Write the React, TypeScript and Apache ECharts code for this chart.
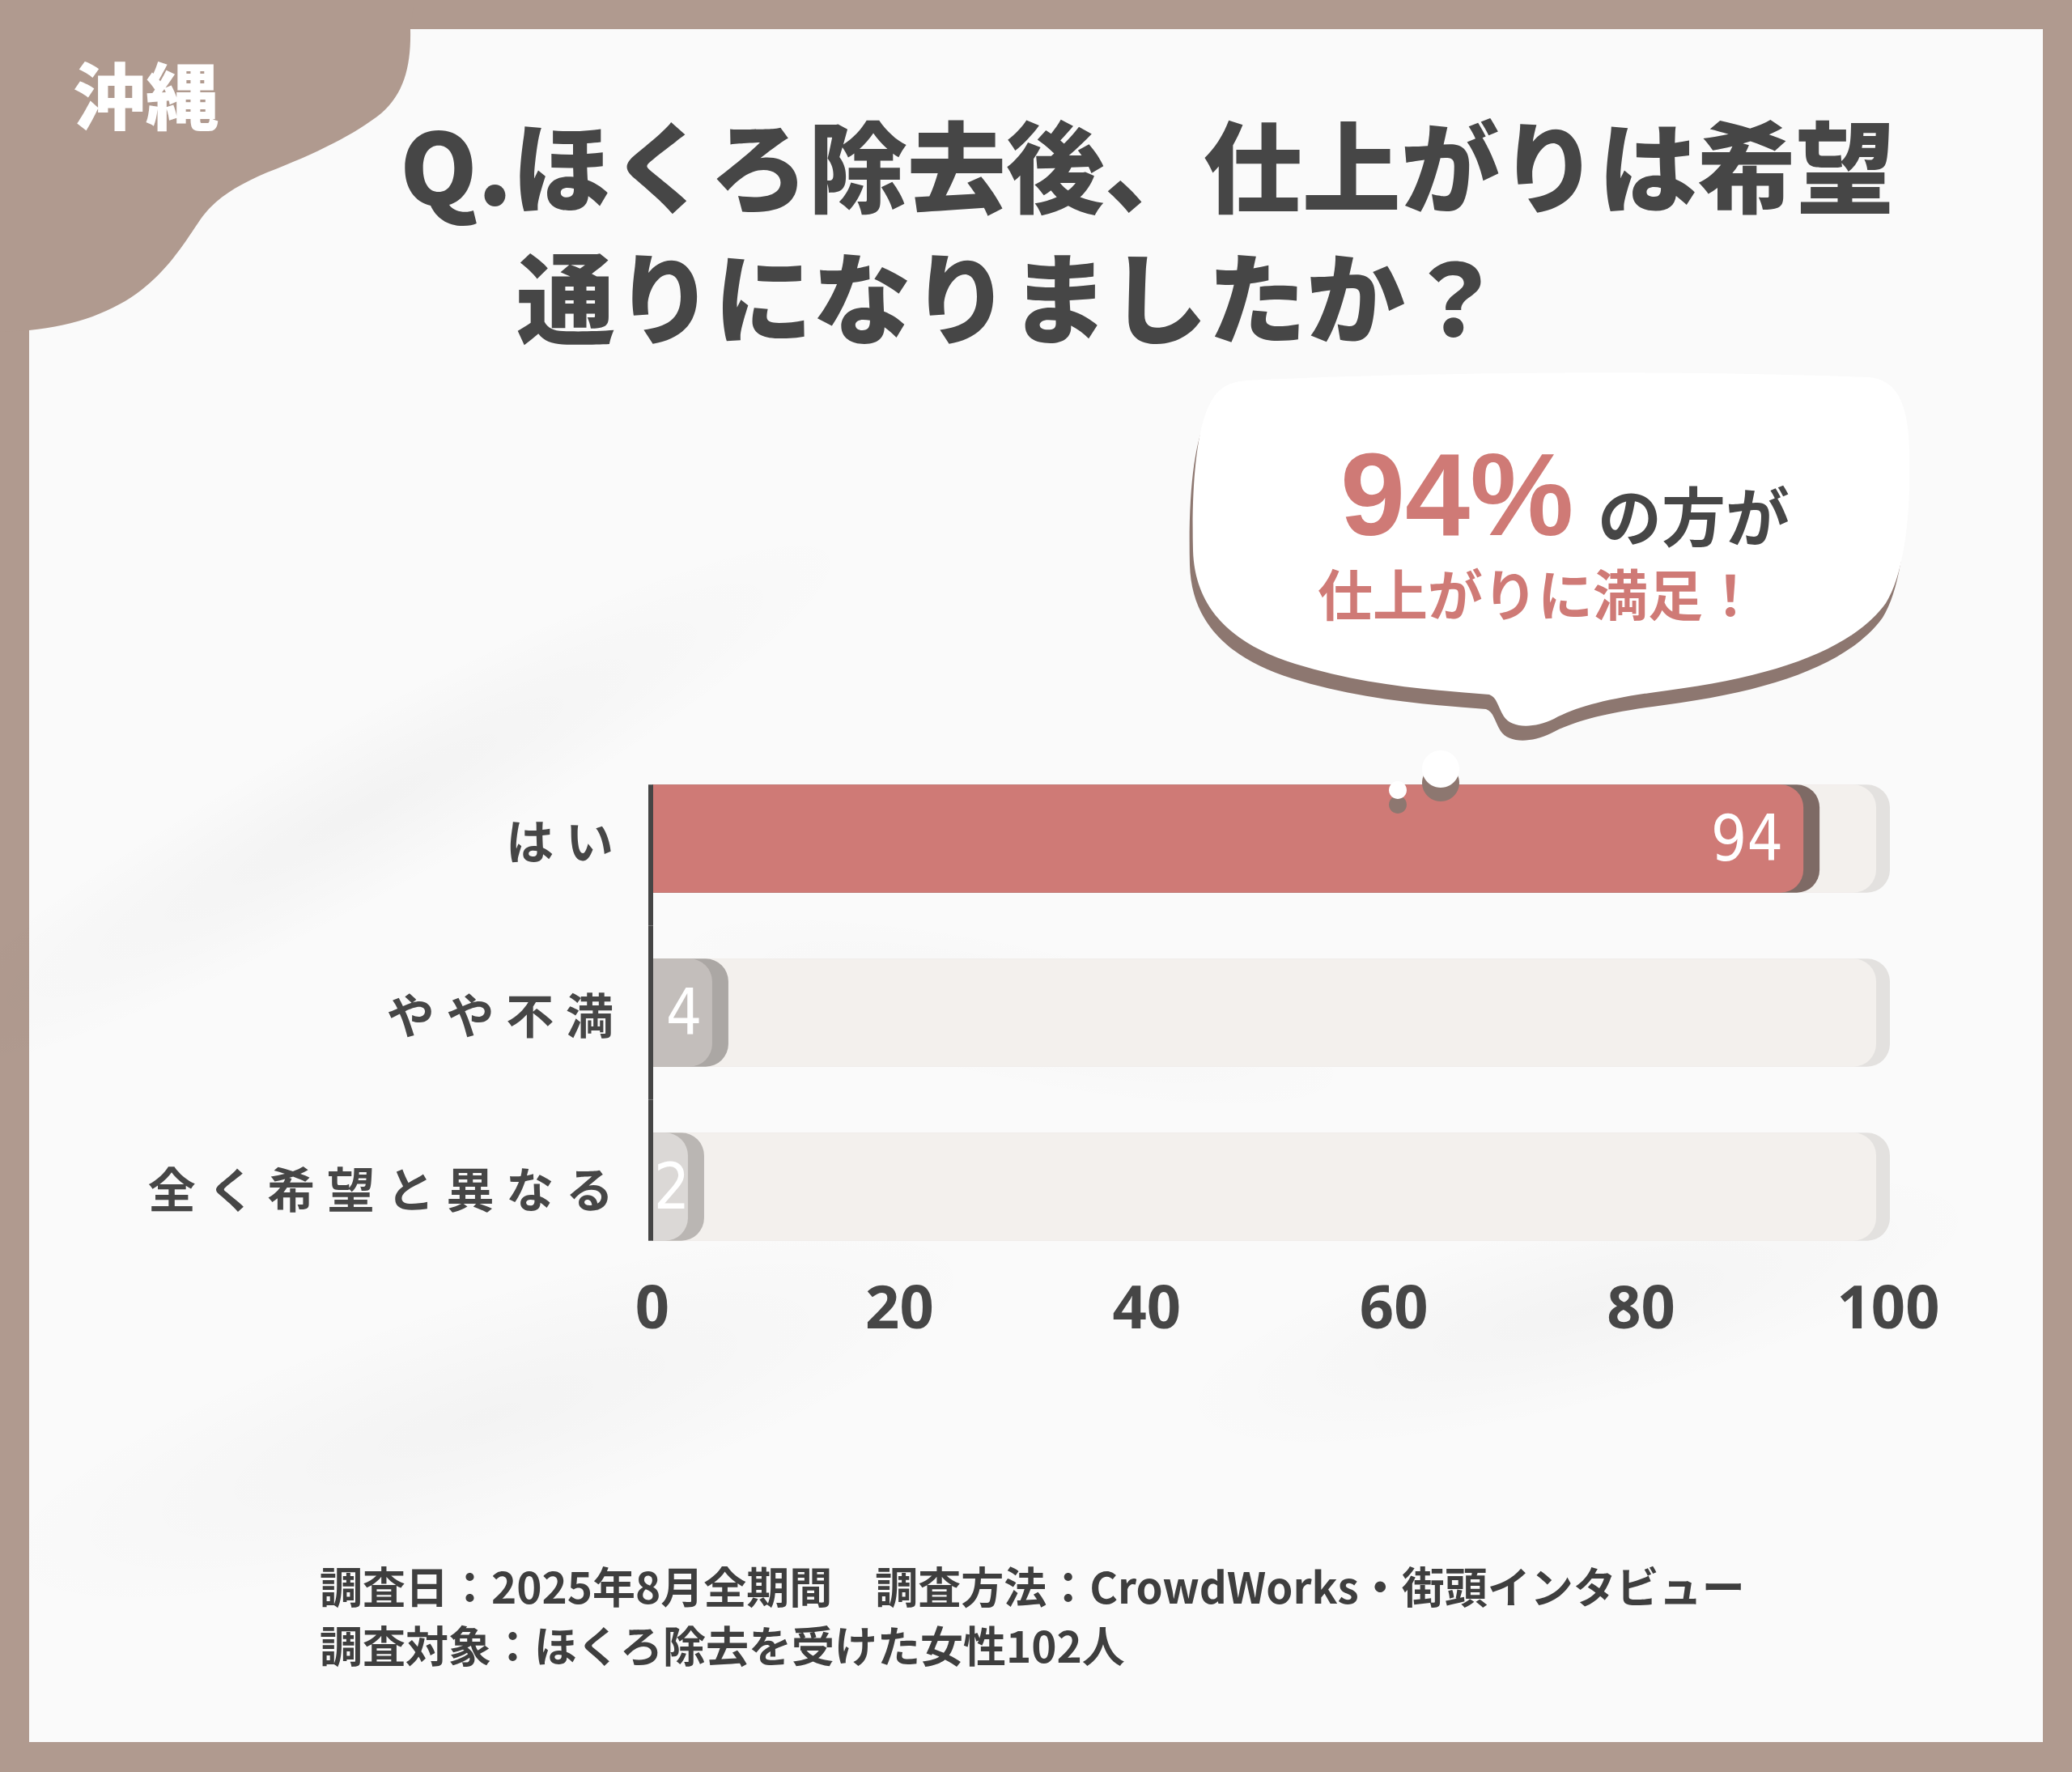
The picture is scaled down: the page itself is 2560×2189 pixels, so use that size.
import React, { useEffect, useRef } from 'react';
import * as echarts from 'echarts';

const W = 2560;
const H = 2189;

// ---- data ----
const categories = ['はい', 'やや不満', '全く希望と異なる'];
const values = [94, 4, 2];
const trackValue = 100;
const xMin = 0;
const xMax = 100;
const xStep = 20;
const barColors = ['#cf7a76', '#c3bebb', '#dbd8d6'];
const barShadowColors = ['#7e6a65', '#aba7a4', '#bab6b3'];
const regionLabel = '沖縄';
const titleLines = ['Q.ほくろ除去後、仕上がりは希望', '通りになりましたか？'];
const calloutSuffix = 'の方が';
const calloutLine2 = '仕上がりに満足！';
const footerLines = [
  '調査日：2025年8月全期間　調査方法：CrowdWorks・街頭インタビュー',
  '調査対象：ほくろ除去を受けた女性102人',
];

// ---- decorative shapes ----
const BLOB_D =
  'M 0 0 L 512 0 L 507 36 C 508 80 500 115 471 140 C 440 165 390 190 330 213 C 290 230 262 248 245 275 C 225 305 205 335 175 358 C 140 385 95 402 36 408 L 0 410 Z';
const BUBBLE_D =
  'M 1541 470 C 1800 458 2100 458 2310 466 C 2345 470 2358 500 2359 560 C 2361 640 2352 710 2330 745 C 2290 800 2200 835 2060 853 C 1990 862 1950 872 1920 888 C 1895 900 1868 900 1858 885 C 1850 872 1850 862 1840 858 C 1760 852 1680 845 1600 820 C 1520 795 1476 750 1474 680 C 1472 600 1478 520 1500 490 C 1510 476 1525 471 1541 470 Z';

echarts.graphic.registerShape('cornerBlob', echarts.graphic.extendPath(BLOB_D, {}));
echarts.graphic.registerShape('speechBubble', echarts.graphic.extendPath(BUBBLE_D, {}));

const CJK = '"Noto Sans CJK JP", "Noto Sans", sans-serif';
const BROWN = '#b09a8f';
const DARK = '#464646';
const RED = '#cf7a76';

function smudge(cx: number, cy: number, rx: number, ry: number, rot: number, a: number) {
  return {
    type: 'ellipse',
    z: -18,
    x: cx,
    y: cy,
    rotation: rot,
    shape: { cx: 0, cy: 0, rx, ry },
    style: {
      fill: {
        type: 'radial',
        x: 0.5,
        y: 0.5,
        r: 0.5,
        colorStops: [
          { offset: 0, color: `rgba(0,0,0,${a})` },
          { offset: 1, color: 'rgba(0,0,0,0)' },
        ],
      },
    },
    silent: true,
  };
}

function renderItem(params: any, api: any) {
  const v = api.value(0) as number;
  const ci = api.value(1) as number;
  const [xEnd, yc] = api.coord([v, ci]);
  const [x0] = api.coord([0, ci]);
  const [xTrack] = api.coord([trackValue, ci]);
  const band = api.size([0, 1])[1];
  const h = band * 0.62;
  const top = yc - h / 2;
  const start = x0 - 14;
  const r = 28;
  const bodyW = xEnd - start;
  const long = bodyW > 150;
  const n = categories.length;
  const segTop = ci === 0 ? top : yc - band / 2;
  const segBot = ci === n - 1 ? top + h : yc + band / 2;
  return {
    type: 'group',
    children: [
      {
        type: 'rect',
        shape: { x: start, y: top, width: xTrack + 17 - start, height: h, r: [0, r, r, 0] },
        style: { fill: '#e3e1df' },
      },
      {
        type: 'rect',
        shape: { x: start, y: top, width: xTrack - start, height: h, r: [0, r, r, 0] },
        style: { fill: '#f3f0ed' },
      },
      {
        type: 'rect',
        shape: { x: start, y: top, width: bodyW + 20, height: h, r: [0, r, r, 0] },
        style: { fill: barShadowColors[ci] },
      },
      {
        type: 'rect',
        shape: { x: start, y: top, width: bodyW, height: h, r: [0, r, r, 0] },
        style: { fill: barColors[ci] },
      },
      {
        type: 'text',
        x: long ? xEnd - 25 : start + bodyW / 2 + 2,
        y: yc,
        style: {
          text: String(v),
          fill: '#ffffff',
          font: '78px "Liberation Sans Narrow", "DejaVu Sans Condensed", sans-serif',
          align: long ? 'right' : 'center',
          verticalAlign: 'middle',
        },
      },
      {
        type: 'rect',
        shape: { x: x0 - 19, y: segTop, width: 6, height: segBot - segTop },
        style: { fill: '#454545' },
      },
    ],
  };
}

export default function App() {
  const ref = useRef<HTMLDivElement>(null);
  useEffect(() => {
    if (!ref.current) return;
    const chart = echarts.init(ref.current, null, { renderer: 'svg', width: W, height: H });
    const graphic: any[] = [
      { type: 'rect', z: -20, shape: { x: 0, y: 0, width: W, height: H }, style: { fill: BROWN }, silent: true },
      { type: 'rect', z: -19, shape: { x: 36, y: 36, width: 2488, height: 2116 }, style: { fill: '#fafafa' }, silent: true },
      smudge(450, 1000, 700, 110, 0.5, 0.03),
      smudge(600, 1750, 650, 150, 0.3, 0.028),
      smudge(1950, 1620, 520, 120, 0.25, 0.028),
      smudge(1250, 1250, 450, 90, -0.2, 0.02),
      { type: 'cornerBlob', z: -17, x: 0, y: 0, style: { fill: BROWN }, silent: true },
      {
        type: 'text', z: -16, x: 90, y: 114,
        style: { text: regionLabel, fill: '#ffffff', font: `900 90px ${CJK}`, align: 'left', verticalAlign: 'middle' },
      },
      {
        type: 'text', z: 10, x: 494, y: 199,
        style: { text: titleLines[0], fill: DARK, font: `900 122px ${CJK}`, align: 'left', verticalAlign: 'middle' },
      },
      {
        type: 'text', z: 10, x: 638, y: 361,
        style: { text: titleLines[1], fill: DARK, font: `900 122px ${CJK}`, align: 'left', verticalAlign: 'middle' },
      },
      { type: 'speechBubble', z: 50, x: -4, y: 18, style: { fill: '#8d7770' }, silent: true },
      { type: 'speechBubble', z: 51, x: 0, y: 0, style: { fill: '#ffffff' }, silent: true },
      {
        type: 'text', z: 52, x: 1656, y: 611,
        style: { text: `${values[0]}%`, fill: RED, font: 'bold 144px "Liberation Sans", Roboto, sans-serif', align: 'left', verticalAlign: 'middle' },
      },
      {
        type: 'text', z: 52, x: 1974, y: 634,
        style: { text: calloutSuffix, fill: DARK, font: `bold 79px ${CJK}`, align: 'left', verticalAlign: 'middle' },
      },
      {
        type: 'text', z: 52, x: 1628, y: 731,
        style: { text: calloutLine2, fill: RED, font: `bold 68px ${CJK}`, align: 'left', verticalAlign: 'middle' },
      },
      { type: 'circle', z: 60, shape: { cx: 1780, cy: 967, r: 23 }, style: { fill: '#8d7770' }, silent: true },
      { type: 'circle', z: 61, shape: { cx: 1780, cy: 950, r: 23 }, style: { fill: '#ffffff' }, silent: true },
      { type: 'circle', z: 60, shape: { cx: 1727, cy: 994, r: 11 }, style: { fill: '#8d7770' }, silent: true },
      { type: 'circle', z: 61, shape: { cx: 1727, cy: 976, r: 11 }, style: { fill: '#ffffff' }, silent: true },
      {
        type: 'text', z: 10, x: 395, y: 1958,
        style: { text: footerLines[0], fill: '#3e3e3e', font: `bold 53px ${CJK}`, align: 'left', verticalAlign: 'middle' },
      },
      {
        type: 'text', z: 10, x: 395, y: 2031,
        style: { text: footerLines[1], fill: '#3e3e3e', font: `bold 53px ${CJK}`, align: 'left', verticalAlign: 'middle' },
      },
    ];

    const option: any = {
      animation: false,
      backgroundColor: 'transparent',
      grid: [
        { left: 806, right: W - 2333, top: 928.5, height: 645, outerBoundsMode: 'none', containLabel: false },
        { left: 820, right: W - 2318, top: 928.5, height: 645, outerBoundsMode: 'none', containLabel: false },
      ],
      xAxis: [
        {
          gridIndex: 0, type: 'value', min: xMin, max: xMax, interval: xStep,
          axisLine: { show: false }, axisTick: { show: false }, splitLine: { show: false },
          axisLabel: {
            margin: 2, color: DARK, fontSize: 74, fontWeight: 'bold',
            fontFamily: '"Noto Sans", sans-serif', showMinLabel: true, showMaxLabel: true,
          },
        },
        { gridIndex: 1, type: 'value', min: xMin, max: xMax, show: false },
      ],
      yAxis: [
        {
          gridIndex: 0, type: 'category', inverse: true, data: categories,
          axisLine: { show: false }, axisTick: { show: false }, splitLine: { show: false },
          axisLabel: {
            margin: 48, color: DARK, fontSize: 59, fontWeight: 'bold', fontFamily: CJK,
            formatter: (s: string) => s.split('').join('\u2005'),
          },
        },
        { gridIndex: 1, type: 'category', inverse: true, data: categories, show: false },
      ],
      series: [
        {
          type: 'custom',
          xAxisIndex: 1,
          yAxisIndex: 1,
          z: 5,
          data: values.map((v, i) => [v, i]),
          encode: { x: 0, y: 1 },
          renderItem,
        },
      ],
      graphic,
    };
    chart.setOption(option);
    return () => chart.dispose();
  }, []);
  return <div ref={ref} style={{ position: 'absolute', left: 0, top: 0, width: W, height: H }} />;
}
